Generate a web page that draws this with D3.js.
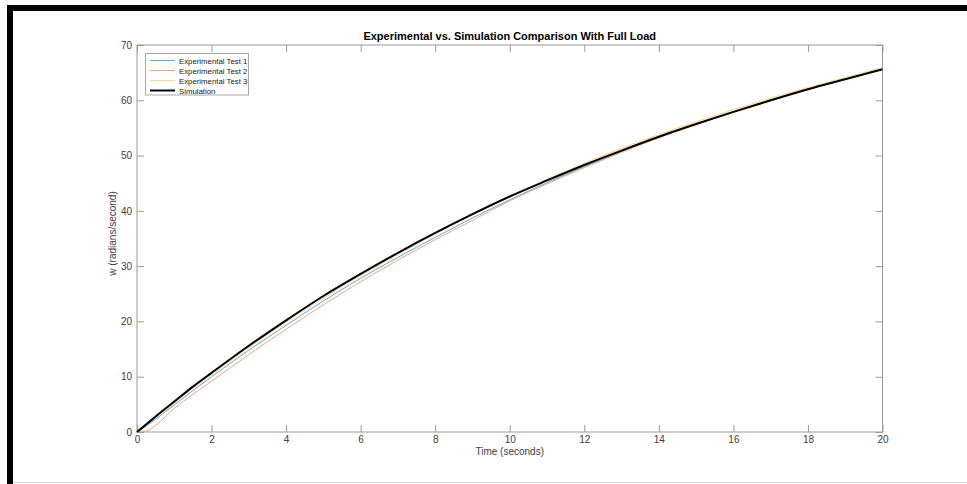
<!DOCTYPE html>
<html>
<head>
<meta charset="utf-8">
<script src="https://cdn.jsdelivr.net/npm/d3@7"></script>
<style>
  html, body { margin: 0; padding: 0; background: #fff; }
  svg { display: block; }
  text { font-family: "Liberation Sans", Arial, Helvetica, sans-serif; }
</style>
</head>
<body>
<svg id="chart" width="967" height="484"></svg>
<script>
// Time samples (seconds)
const time = [0, 0.25, 0.5, 1, 1.5, 2, 3, 4, 5, 6, 7, 8, 9, 10, 11, 12, 13, 14, 15, 16, 17, 18, 19, 20];

// Angular velocity w (radians/second)
const test1 = [0, 1.1, 2.3, 4.9, 7.5, 10.0, 14.8, 19.3, 23.7, 27.8, 31.6, 35.2, 38.7, 42.0, 45.1, 48.0, 50.7, 53.3, 55.7, 57.9, 60.0, 62.0, 63.8, 65.6];
const test2 = [0, 0.2, 1.2, 4.3, 6.8, 9.2, 14.0, 18.6, 23.0, 27.2, 31.1, 34.8, 38.3, 41.8, 44.9, 47.8, 50.6, 53.2, 55.6, 57.8, 59.9, 61.9, 63.8, 65.6];
const test3 = [0, 1.3, 2.6, 5.2, 7.9, 10.4, 15.3, 19.9, 24.2, 28.3, 32.1, 35.8, 39.3, 42.6, 45.7, 48.6, 51.3, 53.8, 56.1, 58.3, 60.4, 62.3, 64.1, 65.9];
const simulation = [0, 1.4, 2.8, 5.5, 8.2, 10.7, 15.6, 20.2, 24.6, 28.6, 32.4, 36.0, 39.4, 42.6, 45.5, 48.3, 50.9, 53.4, 55.7, 57.9, 60.0, 62.0, 63.8, 65.6];

const seriesNames = ["Experimental Test 1", "Experimental Test 2", "Experimental Test 3", "Simulation"];
const xTicks = [0, 2, 4, 6, 8, 10, 12, 14, 16, 18, 20];
const yTicks = [0, 10, 20, 30, 40, 50, 60, 70];

const svg = d3.select("#chart");

// Window frame
svg.append("rect").attr("x", 7).attr("y", 5).attr("width", 960).attr("height", 6).attr("fill", "#000");
svg.append("rect").attr("x", 7).attr("y", 5).attr("width", 6).attr("height", 479).attr("fill", "#000");
svg.append("line").attr("x1", 13).attr("x2", 967).attr("y1", 482.5).attr("y2", 482.5)
  .attr("stroke", "#d8d8d8").attr("stroke-width", 1);

const plot = { left: 137, right: 882.5, top: 45, bottom: 432 };

const x = d3.scaleLinear().domain([0, 20]).range([plot.left, plot.right]);
const y = d3.scaleLinear().domain([0, 70]).range([plot.bottom, plot.top]);

const axisColor = "#9a9a9a";
const textColor = "#404040";

function styleAxis(g) {
  g.select(".domain").remove();
  g.selectAll(".tick line").attr("stroke", axisColor);
  g.selectAll(".tick text").attr("fill", textColor).attr("font-size", 10);
}

svg.append("g").attr("transform", `translate(0,${plot.bottom})`)
  .call(d3.axisBottom(x).tickValues(xTicks).tickSizeInner(-7).tickSizeOuter(0).tickPadding(4))
  .call(styleAxis);
svg.append("g").attr("transform", `translate(0,${plot.top})`)
  .call(d3.axisTop(x).tickValues(xTicks).tickSizeInner(-7).tickSizeOuter(0).tickFormat(""))
  .call(styleAxis);
svg.append("g").attr("transform", `translate(${plot.left},0)`)
  .call(d3.axisLeft(y).tickValues(yTicks).tickSizeInner(-7).tickSizeOuter(0).tickPadding(5))
  .call(styleAxis);
svg.append("g").attr("transform", `translate(${plot.right},0)`)
  .call(d3.axisRight(y).tickValues(yTicks).tickSizeInner(-7).tickSizeOuter(0).tickFormat(""))
  .call(styleAxis);

// Axes box
svg.append("rect")
  .attr("x", plot.left).attr("y", plot.top)
  .attr("width", plot.right - plot.left).attr("height", plot.bottom - plot.top)
  .attr("fill", "none").attr("stroke", axisColor).attr("stroke-width", 1);

// Curves
const series = [
  { name: seriesNames[0], values: test1, color: "#5aa8df", width: 1 },
  { name: seriesNames[1], values: test2, color: "#f2a386", width: 1 },
  { name: seriesNames[2], values: test3, color: "#f8dc9e", width: 1.2 },
  { name: seriesNames[3], values: simulation, color: "#000000", width: 2 }
];

const line = d3.line().x(d => x(d[0])).y(d => y(d[1])).curve(d3.curveMonotoneX);

const order = [2, 0, 1, 3];
order.forEach(i => {
  const s = series[i];
  svg.append("path")
    .datum(time.map((t, k) => [t, s.values[k]]))
    .attr("d", line)
    .attr("fill", "none")
    .attr("stroke", s.color)
    .attr("stroke-width", s.width)
    .attr("stroke-linejoin", "round");
});

// Title and axis labels
svg.append("text")
  .attr("x", (plot.left + plot.right) / 2).attr("y", 40)
  .attr("text-anchor", "middle").attr("font-size", 11).attr("font-weight", "bold")
  .attr("fill", "#000")
  .text("Experimental vs. Simulation Comparison With Full Load");

svg.append("text")
  .attr("x", (plot.left + plot.right) / 2).attr("y", 455)
  .attr("text-anchor", "middle").attr("font-size", 10).attr("fill", textColor)
  .text("Time (seconds)");

svg.append("text")
  .attr("transform", `translate(116,${(plot.top + plot.bottom) / 2 - 5}) rotate(-90)`)
  .attr("text-anchor", "middle").attr("font-size", 10).attr("fill", textColor)
  .text("w (radians/second)");

// Legend
const legend = svg.append("g");
legend.append("rect")
  .attr("x", 145.5).attr("y", 53.5).attr("width", 103).attr("height", 41.5)
  .attr("fill", "#fff").attr("stroke", "#a8a8a8").attr("stroke-width", 1);

series.forEach((s, i) => {
  const ly = 60.5 + i * 10;
  legend.append("line")
    .attr("x1", 150).attr("x2", 175).attr("y1", ly).attr("y2", ly)
    .attr("stroke", s.color).attr("stroke-width", s.width);
  legend.append("text")
    .attr("x", 179).attr("y", ly + 3)
    .attr("font-size", 7.8).attr("fill", "#222")
    .text(s.name);
});
</script>
</body>
</html>
